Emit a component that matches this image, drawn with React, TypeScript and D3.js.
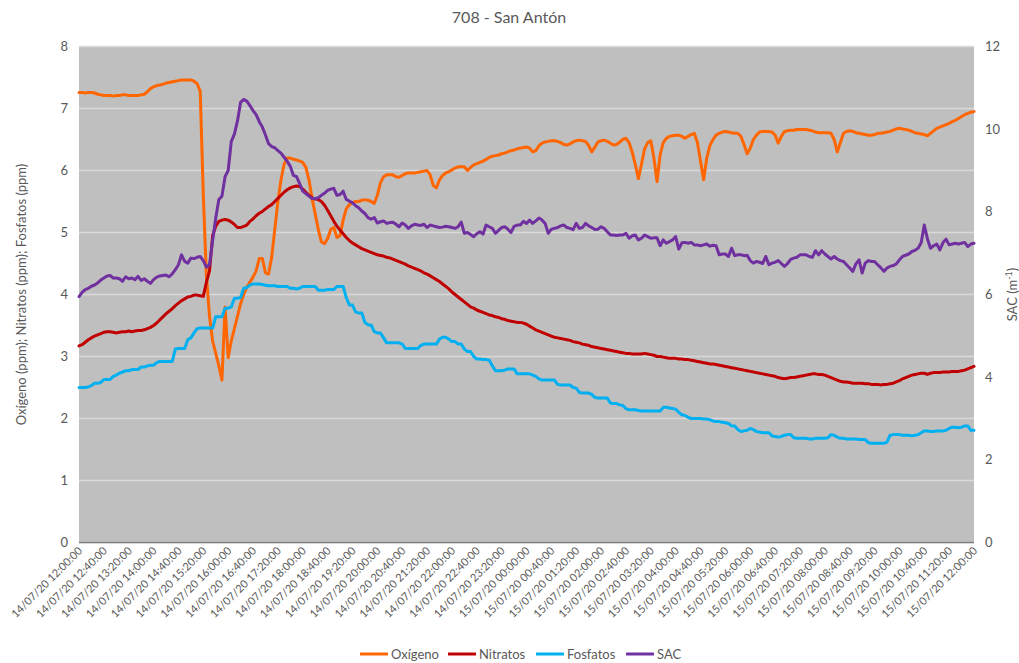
import React from 'react';
import * as d3 from 'd3';

const START = new Date(2020, 6, 14, 12, 0, 0);
const END = new Date(2020, 6, 15, 12, 0, 0);
const STEP_MIN = 5;

const oxigeno = [
  7.26,7.26,7.25,7.26,7.26,7.25,7.23,7.22,7.21,7.21,7.21,7.20,
  7.21,7.21,7.22,7.22,7.21,7.21,7.21,7.21,7.22,7.23,7.27,7.32,
  7.35,7.37,7.38,7.39,7.41,7.42,7.43,7.44,7.45,7.46,7.46,7.46,
  7.46,7.44,7.40,7.28,5.6,4.3,3.65,3.25,3.05,2.85,2.62,3.8,
  2.98,3.25,3.45,3.65,3.85,4.0,4.12,4.2,4.28,4.38,4.58,4.58,
  4.35,4.33,4.6,5.05,5.5,5.85,6.1,6.2,6.2,6.18,6.17,6.15,
  6.13,6.05,5.85,5.55,5.3,5.05,4.85,4.82,4.9,5.05,5.08,4.92,
  4.95,5.2,5.38,5.45,5.48,5.5,5.5,5.52,5.53,5.52,5.5,5.47,
  5.6,5.8,5.9,5.93,5.93,5.93,5.9,5.89,5.92,5.95,5.96,5.96,
  5.96,5.97,5.98,5.99,6.0,5.93,5.76,5.72,5.85,5.92,5.96,5.98,
  6.01,6.04,6.06,6.06,6.06,6.0,6.05,6.09,6.11,6.13,6.15,6.18,
  6.21,6.23,6.24,6.25,6.27,6.28,6.3,6.32,6.33,6.35,6.36,6.37,
  6.38,6.36,6.3,6.32,6.4,6.44,6.46,6.47,6.48,6.48,6.47,6.45,
  6.42,6.41,6.43,6.46,6.48,6.49,6.48,6.47,6.4,6.3,6.38,6.46,
  6.48,6.49,6.47,6.44,6.41,6.42,6.46,6.5,6.52,6.45,6.3,6.1,
  5.87,6.1,6.35,6.45,6.48,6.2,5.82,6.25,6.45,6.52,6.55,6.56,
  6.57,6.57,6.55,6.52,6.55,6.58,6.6,6.45,6.15,5.85,6.2,6.4,
  6.5,6.57,6.6,6.62,6.63,6.62,6.61,6.6,6.6,6.55,6.42,6.27,
  6.36,6.5,6.57,6.62,6.63,6.63,6.63,6.62,6.57,6.44,6.55,6.63,
  6.64,6.65,6.65,6.66,6.66,6.66,6.66,6.65,6.64,6.62,6.61,6.61,
  6.61,6.61,6.6,6.5,6.3,6.45,6.6,6.63,6.64,6.63,6.61,6.6,
  6.59,6.58,6.57,6.57,6.58,6.6,6.6,6.61,6.62,6.63,6.65,6.67,
  6.68,6.67,6.66,6.65,6.63,6.61,6.6,6.59,6.58,6.56,6.6,6.64,
  6.68,6.7,6.72,6.74,6.76,6.79,6.81,6.84,6.87,6.9,6.92,6.94,
  6.95,
];

const nitratos = [
  3.17,3.19,3.23,3.27,3.3,3.33,3.35,3.37,3.39,3.40,3.40,3.39,
  3.38,3.39,3.40,3.40,3.41,3.40,3.41,3.42,3.42,3.43,3.45,3.47,
  3.5,3.54,3.59,3.64,3.69,3.73,3.77,3.82,3.86,3.9,3.93,3.96,
  3.97,3.99,3.99,3.98,3.97,4.2,4.38,4.95,5.1,5.18,5.2,5.21,
  5.2,5.17,5.13,5.08,5.08,5.1,5.12,5.18,5.22,5.27,5.31,5.34,
  5.38,5.42,5.45,5.5,5.55,5.6,5.65,5.69,5.72,5.74,5.75,5.74,
  5.7,5.65,5.6,5.56,5.54,5.53,5.5,5.44,5.36,5.27,5.18,5.1,
  5.04,4.98,4.92,4.87,4.83,4.8,4.77,4.74,4.72,4.7,4.68,4.66,
  4.64,4.63,4.62,4.6,4.59,4.57,4.55,4.53,4.51,4.49,4.46,4.44,
  4.42,4.4,4.38,4.35,4.33,4.3,4.27,4.24,4.21,4.17,4.13,4.09,
  4.04,4.0,3.96,3.92,3.88,3.84,3.8,3.78,3.75,3.73,3.71,3.69,
  3.67,3.66,3.64,3.63,3.61,3.6,3.58,3.57,3.56,3.55,3.55,3.54,
  3.52,3.49,3.46,3.43,3.41,3.39,3.37,3.35,3.33,3.31,3.3,3.29,
  3.28,3.27,3.26,3.24,3.23,3.22,3.2,3.19,3.18,3.16,3.15,3.14,
  3.13,3.12,3.11,3.1,3.09,3.08,3.07,3.06,3.05,3.05,3.04,3.04,
  3.04,3.04,3.05,3.04,3.03,3.02,3.0,3.0,2.99,2.98,2.97,2.97,
  2.97,2.96,2.96,2.95,2.95,2.94,2.93,2.92,2.91,2.9,2.89,2.88,
  2.88,2.87,2.86,2.85,2.84,2.83,2.82,2.81,2.8,2.79,2.78,2.77,
  2.76,2.75,2.74,2.73,2.72,2.71,2.7,2.69,2.68,2.66,2.65,2.64,
  2.65,2.66,2.66,2.67,2.68,2.69,2.7,2.71,2.72,2.72,2.71,2.71,
  2.7,2.68,2.66,2.64,2.62,2.6,2.59,2.59,2.58,2.57,2.57,2.57,
  2.57,2.56,2.56,2.55,2.55,2.55,2.54,2.55,2.55,2.56,2.57,2.59,
  2.61,2.64,2.66,2.68,2.7,2.71,2.72,2.73,2.73,2.71,2.73,2.74,
  2.74,2.74,2.75,2.75,2.75,2.76,2.76,2.76,2.77,2.78,2.8,2.82,
  2.84,
];

const fosfatos = [
  2.5,2.5,2.5,2.51,2.53,2.57,2.57,2.58,2.63,2.63,2.63,2.68,
  2.7,2.73,2.75,2.77,2.77,2.79,2.79,2.79,2.83,2.83,2.85,2.86,
  2.86,2.9,2.92,2.92,2.92,2.92,2.92,3.12,3.13,3.13,3.13,3.27,
  3.3,3.38,3.45,3.46,3.46,3.46,3.46,3.46,3.64,3.64,3.64,3.78,
  3.78,3.8,3.94,3.94,3.95,4.1,4.11,4.15,4.17,4.17,4.17,4.16,
  4.15,4.14,4.14,4.14,4.13,4.13,4.13,4.13,4.1,4.1,4.09,4.1,
  4.13,4.13,4.13,4.13,4.13,4.07,4.07,4.07,4.08,4.08,4.08,4.13,
  4.13,4.13,3.95,3.83,3.83,3.72,3.7,3.7,3.55,3.51,3.51,3.4,
  3.38,3.38,3.3,3.22,3.22,3.22,3.22,3.22,3.2,3.13,3.13,3.13,
  3.13,3.13,3.18,3.2,3.2,3.2,3.2,3.2,3.28,3.31,3.31,3.28,
  3.24,3.24,3.2,3.2,3.12,3.08,3.08,3.0,2.96,2.96,2.95,2.95,
  2.94,2.85,2.77,2.77,2.77,2.78,2.8,2.8,2.8,2.72,2.72,2.72,
  2.72,2.72,2.7,2.68,2.64,2.62,2.62,2.62,2.62,2.62,2.55,2.54,
  2.54,2.54,2.54,2.5,2.49,2.42,2.41,2.41,2.41,2.39,2.34,2.33,
  2.33,2.33,2.33,2.25,2.24,2.24,2.22,2.21,2.16,2.14,2.14,2.14,
  2.13,2.12,2.12,2.12,2.12,2.12,2.12,2.12,2.18,2.18,2.17,2.16,
  2.15,2.1,2.06,2.05,2.02,2.0,2.0,2.0,2.0,1.99,1.99,1.98,
  1.96,1.95,1.95,1.94,1.93,1.92,1.88,1.88,1.82,1.79,1.8,1.81,
  1.84,1.82,1.79,1.78,1.77,1.77,1.77,1.72,1.71,1.7,1.71,1.73,
  1.74,1.74,1.69,1.68,1.68,1.68,1.68,1.67,1.67,1.68,1.68,1.68,
  1.68,1.69,1.74,1.73,1.7,1.68,1.68,1.67,1.67,1.67,1.67,1.66,
  1.66,1.66,1.61,1.6,1.6,1.6,1.6,1.6,1.62,1.73,1.74,1.74,
  1.74,1.73,1.73,1.73,1.72,1.73,1.74,1.77,1.8,1.8,1.79,1.79,
  1.8,1.8,1.8,1.81,1.84,1.86,1.86,1.85,1.86,1.88,1.88,1.81,
  1.81,
];

const sac = [
  5.95,6.05,6.12,6.15,6.2,6.23,6.28,6.35,6.4,6.45,6.46,6.4,
  6.4,6.38,6.32,6.43,6.38,6.4,6.36,6.44,6.34,6.38,6.32,6.27,
  6.36,6.42,6.45,6.46,6.47,6.43,6.5,6.6,6.72,6.96,6.8,6.76,
  6.88,6.87,6.9,6.92,6.82,6.66,6.72,7.3,7.85,8.3,8.38,8.85,
  9.0,9.7,9.88,10.2,10.65,10.72,10.68,10.57,10.45,10.35,10.18,10.05,
  9.86,9.65,9.58,9.55,9.48,9.42,9.32,9.22,9.1,8.88,8.85,8.68,
  8.5,8.44,8.38,8.32,8.32,8.34,8.4,8.45,8.52,8.55,8.57,8.4,
  8.42,8.5,8.3,8.26,8.22,8.15,8.1,8.02,7.96,7.86,7.82,7.86,
  7.73,7.76,7.78,7.72,7.74,7.75,7.7,7.64,7.73,7.68,7.6,7.66,
  7.7,7.68,7.67,7.7,7.62,7.68,7.66,7.64,7.62,7.63,7.65,7.64,
  7.62,7.6,7.64,7.75,7.48,7.5,7.45,7.4,7.47,7.52,7.46,7.68,
  7.64,7.6,7.48,7.55,7.62,7.64,7.58,7.5,7.65,7.68,7.68,7.77,
  7.72,7.8,7.72,7.78,7.85,7.8,7.72,7.48,7.58,7.6,7.62,7.66,
  7.68,7.62,7.6,7.57,7.72,7.6,7.62,7.72,7.66,7.62,7.57,7.58,
  7.64,7.6,7.52,7.44,7.44,7.43,7.44,7.44,7.48,7.36,7.42,7.44,
  7.32,7.36,7.44,7.4,7.36,7.37,7.37,7.18,7.32,7.24,7.28,7.32,
  7.4,7.1,7.25,7.26,7.24,7.26,7.2,7.2,7.18,7.2,7.22,7.17,
  7.19,7.18,6.96,6.98,6.98,6.92,7.12,6.94,6.96,6.96,6.94,6.95,
  6.82,6.76,6.8,6.78,6.75,6.92,6.72,6.76,6.78,6.82,6.75,6.68,
  6.75,6.85,6.88,6.9,6.96,6.96,6.96,6.92,6.9,7.06,6.96,7.06,
  6.98,6.92,6.86,6.92,6.86,6.82,6.8,6.72,6.64,6.56,6.74,6.84,
  6.52,6.76,6.82,6.8,6.8,6.72,6.65,6.56,6.64,6.68,6.7,6.74,
  6.84,6.92,6.95,6.98,7.04,7.07,7.12,7.25,7.68,7.35,7.12,7.18,
  7.22,7.08,7.25,7.34,7.2,7.22,7.24,7.22,7.24,7.26,7.16,7.22,
  7.24,
];

const xTickLabels = [
  '14/07/20 12:00:00','14/07/20 12:40:00','14/07/20 13:20:00','14/07/20 14:00:00',
  '14/07/20 14:40:00','14/07/20 15:20:00','14/07/20 16:00:00','14/07/20 16:40:00',
  '14/07/20 17:20:00','14/07/20 18:00:00','14/07/20 18:40:00','14/07/20 19:20:00',
  '14/07/20 20:00:00','14/07/20 20:40:00','14/07/20 21:20:00','14/07/20 22:00:00',
  '14/07/20 22:40:00','14/07/20 23:20:00','15/07/20 00:00:00','15/07/20 00:40:00',
  '15/07/20 01:20:00','15/07/20 02:00:00','15/07/20 02:40:00','15/07/20 03:20:00',
  '15/07/20 04:00:00','15/07/20 04:40:00','15/07/20 05:20:00','15/07/20 06:00:00',
  '15/07/20 06:40:00','15/07/20 07:20:00','15/07/20 08:00:00','15/07/20 08:40:00',
  '15/07/20 09:20:00','15/07/20 10:00:00','15/07/20 10:40:00','15/07/20 11:20:00',
  '15/07/20 12:00:00',
];
const X_TICK_STEP_MIN = 40;
const leftTicks = [0, 1, 2, 3, 4, 5, 6, 7, 8];
const rightTicks = [0, 2, 4, 6, 8, 10, 12];

const seriesNames = ['Oxígeno', 'Nitratos', 'Fosfatos', 'SAC'];
const seriesColors = ['#FF6600', '#C00000', '#00B0F0', '#7030A0'];

const W = 1019;
const H = 663;
const L = 79;
const R = 974;
const T = 46.5;
const B = 542.5;
const FONT = 'Lato, "Open Sans", sans-serif';
const TXT = '#595959';

export default function App() {
  const x = d3.scaleTime().domain([START, END]).range([L, R]);
  const yL = d3.scaleLinear().domain([0, 8]).range([B, T]);
  const yR = d3.scaleLinear().domain([0, 12]).range([B, T]);
  const timeAt = (i: number) => new Date(START.getTime() + i * STEP_MIN * 60000);

  const mk = (scale: d3.ScaleLinear<number, number>) =>
    d3.line<number>()
      .x((_, i) => x(timeAt(i)))
      .y((d) => scale(d));

  const series = [
    { data: oxigeno, scale: yL },
    { data: nitratos, scale: yL },
    { data: fosfatos, scale: yL },
    { data: sac, scale: yR },
  ];

  const legendX = [360, 448, 536, 626];

  return (
    <svg width={W} height={H} style={{ position: 'absolute', left: 0, top: 0, background: '#fff' }} fontFamily={FONT}>
      <rect x={0} y={0} width={W} height={H} fill="#fff" />
      <text x={509} y={23} textAnchor="middle" fontSize={16} fill={TXT}>708 - San Antón</text>
      <rect x={L} y={T} width={R - L} height={B - T} fill="#BFBFBF" />
      {leftTicks.map((v) => (
        <line key={'g' + v} x1={L} x2={R} y1={yL(v)} y2={yL(v)} stroke="#D9D9D9" strokeWidth={1.3} />
      ))}
      <line x1={L} x2={R} y1={B} y2={B} stroke="#7F7F7F" strokeWidth={1.5} />
      {leftTicks.map((v) => (
        <text key={'l' + v} x={68} y={yL(v)} dy="0.35em" textAnchor="end" fontSize={13} fill={TXT}>{v}</text>
      ))}
      {rightTicks.map((v) => (
        <text key={'r' + v} x={985} y={yR(v)} dy="0.35em" textAnchor="start" fontSize={13} fill={TXT}>{v}</text>
      ))}
      <text transform={`translate(26,${(T + B) / 2}) rotate(-90)`} textAnchor="middle" fontSize={13} fill={TXT}>
        Oxígeno (ppm); Nitratos (ppm); Fosfatos (ppm)
      </text>
      <text transform={`translate(1017,${(T + B) / 2}) rotate(-90)`} textAnchor="middle" fontSize={13} fill={TXT}>
        SAC (m<tspan dy={-5} fontSize={9}>-1</tspan><tspan dy={5}>)</tspan>
      </text>
      {xTickLabels.map((lab, i) => {
        const t = new Date(START.getTime() + i * X_TICK_STEP_MIN * 60000);
        const px = x(t);
        return (
          <text key={'x' + i} transform={`translate(${px + 4},${B + 9}) rotate(-45)`} textAnchor="end" fontSize={11} fill={TXT}>
            {lab}
          </text>
        );
      })}
      {series.map((s, k) => (
        <path key={'s' + k} d={mk(s.scale)(s.data) || ''} fill="none" stroke={seriesColors[k]} strokeWidth={3} strokeLinejoin="round" strokeLinecap="round" />
      ))}
      {seriesNames.map((n, k) => (
        <g key={'lg' + k}>
          <line x1={legendX[k]} x2={legendX[k] + 28} y1={654} y2={654} stroke={seriesColors[k]} strokeWidth={3} />
          <text x={legendX[k] + 31} y={654} dy="0.35em" fontSize={13} fill={TXT}>{n}</text>
        </g>
      ))}
    </svg>
  );
}
